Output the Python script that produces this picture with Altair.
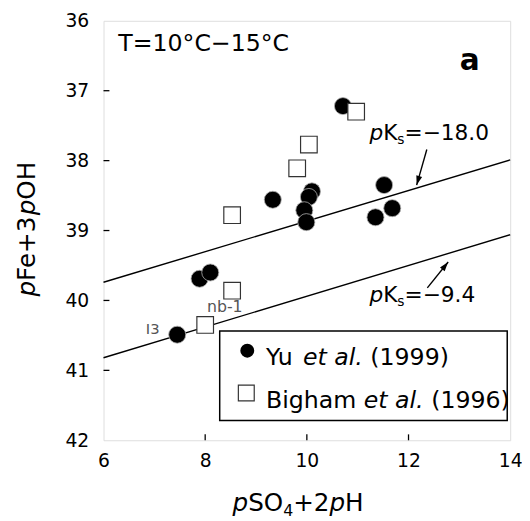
import math
import altair as alt
import pandas as pd

# ---------------- data ----------------
yu_x = [10.71, 9.33, 10.10, 10.04, 9.95, 9.99, 11.52, 11.35, 11.68, 7.89, 8.10, 7.45]
yu_y = [37.22, 38.56, 38.44, 38.52, 38.71, 38.88, 38.35, 38.81, 38.68, 39.69, 39.60, 40.49]
bigham_x = [10.97, 10.04, 9.81, 8.53, 8.53, 8.00]
bigham_y = [37.30, 37.77, 38.11, 38.78, 39.86, 40.35]

line_names = ["pKs=-18.0", "pKs=-9.4"]
line_x = [[6, 14], [6, 14]]
line_y = [[39.74, 37.99], [40.82, 39.06]]

arrow_x = [12.36, 12.37]
arrow_y = [37.84, 39.82]
arrow_x2 = [12.16, 12.78]
arrow_y2 = [38.35, 39.45]

x_ticks = [6, 8, 10, 12, 14]
y_ticks = [36, 37, 38, 39, 40, 41, 42]
x_inner_ticks = [8, 10, 12]
y_inner_ticks = [37, 38, 39, 40, 41]

# ---------------- layout ----------------
W, H = 413, 426
FONT = "DejaVu Sans"
XMIN, XMAX, YMIN, YMAX = 6, 14, 36, 42

xs = alt.Scale(domain=[XMIN, XMAX], nice=False, zero=False)
ys = alt.Scale(domain=[YMIN, YMAX], reverse=True, nice=False, zero=False)
xaxis = alt.Axis(values=x_ticks, ticks=False, domain=False, grid=False, title=None,
                 labelFont=FONT, labelFontSize=19, labelColor="black", labelPadding=12,
                 labelFlush=False, labelOverlap=False, format="d")
yaxis = alt.Axis(values=y_ticks, ticks=False, domain=False, grid=False, title=None,
                 labelFont=FONT, labelFontSize=19, labelColor="black", labelPadding=15,
                 labelFlush=False, labelOverlap=False, format="d")

# approximate DejaVu Sans advance widths (em)
WID = {" ": .318, "p": .635, "F": .575, "e": .615, "+": .838, "3": .636, "O": .787,
       "H": .752, "S": .635, "2": .636, "4": .636, "K": .656, "s": .521, "=": .838,
       "\u2212": .838, "1": .636, "8": .636, "0": .636, ".": .318, "9": .636, "6": .636,
       "Y": .611, "u": .634, "t": .392, "a": .613, "l": .278, "(": .390, ")": .390,
       "B": .686, "i": .278, "g": .635, "h": .634, "m": .974}


def tw(s, size):
    return sum(WID.get(c, .6) for c in s) * size


def txt(text, x, y, size, style="normal", weight="normal", color="black",
        align="left", angle=0):
    return alt.Chart(pd.DataFrame({"t": [text]})).mark_text(
        font=FONT, fontSize=size, fontStyle=style, fontWeight=weight, color=color,
        align=align, baseline="alphabetic", angle=angle
    ).encode(x=alt.value(x), y=alt.value(y), text="t:N")


def rich(pieces, x0, y0, vertical=False):
    layers = []
    pos = 0.0
    for text, size, style, shift in pieces:
        core = text.strip(" ")
        lead = tw(text[:len(text) - len(text.lstrip(" "))], size)
        p = pos + lead
        if vertical:
            layers.append(txt(core, x0 + shift, y0 - p, size, style, angle=270))
        else:
            layers.append(txt(core, x0 + p, y0 + shift, size, style))
        pos += tw(text, size)
    return layers


# ---------------- data frames ----------------
yu_df = pd.DataFrame({"x": yu_x, "y": yu_y})
bg_df = pd.DataFrame({"x": bigham_x, "y": bigham_y})
lines_df = pd.DataFrame([
    {"line": n, "x": xv, "y": yv}
    for n, xx, yy in zip(line_names, line_x, line_y) for xv, yv in zip(xx, yy)
])
ang = []
for a, b, c, d in zip(arrow_x, arrow_y, arrow_x2, arrow_y2):
    dxp = (c - a) * W / (XMAX - XMIN)
    dyp = (d - b) * H / (YMAX - YMIN)
    ang.append(math.degrees(math.atan2(dxp, -dyp)) % 360)
arrows_df = pd.DataFrame({"x": arrow_x, "y": arrow_y, "x2": arrow_x2, "y2": arrow_y2, "angle": ang})

X = alt.X("x:Q", scale=xs, axis=xaxis)
Y = alt.Y("y:Q", scale=ys, axis=yaxis)

lines = alt.Chart(lines_df).mark_line(color="black", strokeWidth=1.4).encode(
    x=X, y=Y, detail="line:N")
shafts = alt.Chart(arrows_df).mark_rule(color="black", strokeWidth=1.4).encode(
    x=X, y=Y, x2="x2:Q", y2="y2:Q")
heads = alt.Chart(arrows_df).mark_point(
    shape="M0,0L-0.32,1L0.32,1Z", filled=True, color="black", size=360, opacity=1
).encode(x=alt.X("x2:Q", scale=xs, axis=xaxis), y=alt.Y("y2:Q", scale=ys, axis=yaxis),
         angle=alt.Angle("angle:Q", scale=None))

circles = alt.Chart(yu_df).mark_circle(
    size=300, color="black", stroke="#b0b0b0", strokeWidth=0.8, opacity=1).encode(x=X, y=Y)
squares = alt.Chart(bg_df).mark_square(
    size=285, fill="white", stroke="#333333", strokeWidth=1.2, opacity=1).encode(x=X, y=Y)

xt = alt.Chart(pd.DataFrame({"v": x_inner_ticks})).mark_rule(color="black", strokeWidth=1.3).encode(
    x=alt.X("v:Q", scale=xs, axis=xaxis), y=alt.value(H), y2=alt.value(H - 6))
yt = alt.Chart(pd.DataFrame({"v": y_inner_ticks})).mark_rule(color="black", strokeWidth=1.3).encode(
    y=alt.Y("v:Q", scale=ys, axis=yaxis), x=alt.value(0), x2=alt.value(6))

# legend (drawn by hand so that "et al." can be italic)
legend_box = alt.Chart(pd.DataFrame({"k": [0]})).mark_rect(
    fill="white", stroke="black", strokeWidth=1.5).encode(
    x=alt.value(118), x2=alt.value(410), y=alt.value(315), y2=alt.value(406))
leg_circle = alt.Chart(pd.DataFrame({"k": [0]})).mark_circle(
    size=200, color="black", opacity=1).encode(x=alt.value(146), y=alt.value(335))
leg_square = alt.Chart(pd.DataFrame({"k": [0]})).mark_square(
    size=260, fill="white", stroke="#333333", strokeWidth=1.2, opacity=1).encode(
    x=alt.value(145), y=alt.value(378))

texts = []
texts.append(txt("T=10\u00b0C\u221215\u00b0C", 15, 31, 24))
texts.append(txt("a", 372, 50, 30, weight="bold", align="center"))
texts += rich([("p", 22, "italic", 0), ("K", 22, "normal", 0), ("s", 14, "normal", 4),
               ("=\u221218.0", 22, "normal", 0)], 270, 121)
texts += rich([("p", 22, "italic", 0), ("K", 22, "normal", 0), ("s", 14, "normal", 4),
               ("=\u22129.4", 22, "normal", 0)], 270, 286)
texts.append(txt("I3", 43, 318, 15, color="#555555"))
texts.append(txt("nb-1", 105, 296, 16, color="#555555"))
texts += rich([("Yu ", 24, "normal", 0), ("et al.", 24, "italic", 0),
               (" (1999)", 24, "normal", 0)], 165, 350)
texts += rich([("Bigham ", 24, "normal", 0), ("et al.", 24, "italic", 0),
               (" (1996)", 24, "normal", 0)], 165, 393)
# axis titles
texts += rich([("p", 25, "italic", 0), ("SO", 25, "normal", 0), ("4", 16, "normal", 5),
               ("+2", 25, "normal", 0), ("p", 25, "italic", 0), ("H", 25, "normal", 0)],
              131, H + 72)
texts += rich([("p", 25, "italic", 0), ("Fe+3", 25, "normal", 0), ("p", 25, "italic", 0),
               ("OH", 25, "normal", 0)], -70, 280, vertical=True)

chart = alt.layer(
    lines, shafts, heads, circles, squares, xt, yt,
    legend_box, leg_circle, leg_square, *texts
).properties(
    width=W, height=H,
    autosize=alt.AutoSizeParams(type="none"),
    padding={"left": 97, "top": 9, "right": 12, "bottom": 79},
).configure_view(stroke="black", strokeWidth=1.5).configure(font=FONT)

chart.save("out.html", embed_options={"renderer": "svg", "actions": False})
